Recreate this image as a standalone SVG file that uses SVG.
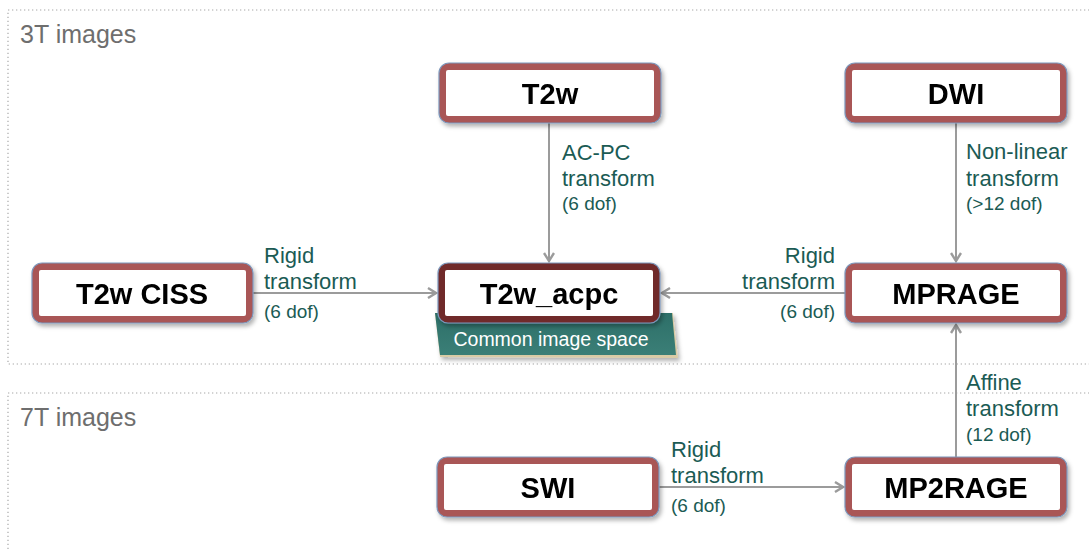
<svg xmlns="http://www.w3.org/2000/svg" width="1089" height="549" viewBox="0 0 1089 549">
<defs>
<style>
.sec{fill:none;stroke:#a8a8a8;stroke-width:1.2;stroke-dasharray:1.3 2.7}
.title{font-family:"Liberation Sans",Arial,sans-serif;font-size:25px;fill:#6e6e6e}
.outer{fill:#a95656;stroke:#7d97bb;stroke-width:1.2}
.outerD{fill:#6f2b2b;stroke:#7d97bb;stroke-width:1.2}
.inner{fill:#ffffff}
.nt{font-family:"Liberation Sans",Arial,sans-serif;font-size:29px;font-weight:bold;fill:#000;text-anchor:middle}
.lb{font-family:"Liberation Sans",Arial,sans-serif;font-size:22px;fill:#1b5b54}
.sm{font-size:19px}
.conn line{stroke:#9b9b9b;stroke-width:2;fill:none}
</style>
<marker id="arr" viewBox="0 0 12 12" refX="10" refY="6" markerWidth="12" markerHeight="12" markerUnits="userSpaceOnUse" orient="auto">
<path d="M2,1 L10,6 L2,11" fill="none" stroke="#9b9b9b" stroke-width="2.4"/>
</marker>
<filter id="sh" x="-10%" y="-20%" width="125%" height="150%">
<feDropShadow dx="2" dy="3" stdDeviation="2" flood-color="#000" flood-opacity="0.3"/>
</filter>
<linearGradient id="teal" x1="0" y1="0" x2="0" y2="1">
<stop offset="0" stop-color="#2d6f68"/>
<stop offset="1" stop-color="#3b7f77"/>
</linearGradient>
</defs>

<g id="sections">
<rect class="sec" x="8" y="10" width="1100" height="354"/>
<rect class="sec" x="8" y="393" width="1100" height="180"/>
<text class="title" x="20" y="43">3T images</text>
<text class="title" x="20" y="426">7T images</text>
</g>

<g class="conn" id="connectors">
<line x1="549" y1="123" x2="549" y2="261" marker-end="url(#arr)"/>
<line x1="956" y1="123" x2="956" y2="261" marker-end="url(#arr)"/>
<line x1="253" y1="293" x2="436" y2="293" marker-end="url(#arr)"/>
<line x1="845" y1="293" x2="662" y2="293" marker-end="url(#arr)"/>
<line x1="956" y1="457" x2="956" y2="325" marker-end="url(#arr)"/>
<line x1="659" y1="487" x2="843" y2="487" marker-end="url(#arr)"/>
</g>

<g id="labels">
<text class="lb" x="562" y="160">AC-PC</text>
<text class="lb" x="562" y="186">transform</text>
<text class="lb sm" x="562" y="210">(6 dof)</text>

<text class="lb" x="966" y="159">Non-linear</text>
<text class="lb" x="966" y="186">transform</text>
<text class="lb sm" x="966" y="210">(&gt;12 dof)</text>

<text class="lb" x="264" y="263">Rigid</text>
<text class="lb" x="264" y="289">transform</text>
<text class="lb sm" x="264" y="318">(6 dof)</text>

<text class="lb" x="835" y="263" text-anchor="end">Rigid</text>
<text class="lb" x="835" y="289" text-anchor="end">transform</text>
<text class="lb sm" x="835" y="318" text-anchor="end">(6 dof)</text>

<text class="lb" x="966" y="390">Affine</text>
<text class="lb" x="966" y="416">transform</text>
<text class="lb sm" x="966" y="441">(12 dof)</text>

<text class="lb" x="671" y="457">Rigid</text>
<text class="lb" x="671" y="483">transform</text>
<text class="lb sm" x="671" y="512">(6 dof)</text>
</g>

<g id="common-space">
<path d="M435,313 L673,313 L678,358 L440,357 Z" fill="#d9cba6" filter="url(#sh)"/>
<path d="M435,313 L672,313 L676,355 L440,355 Z" fill="url(#teal)"/>
<text x="551" y="346" text-anchor="middle" font-family="Liberation Sans, Arial, sans-serif" font-size="19.5" fill="#ffffff">Common image space</text>
</g>

<g id="node-t2w" filter="url(#sh)">
<rect class="outer" x="439" y="63" width="222" height="60" rx="10"/>
<rect class="inner" x="446" y="70" width="208" height="46" rx="2"/>
<text class="nt" x="550" y="104">T2w</text>
</g>

<g id="node-dwi" filter="url(#sh)">
<rect class="outer" x="845" y="63" width="222" height="60" rx="10"/>
<rect class="inner" x="852" y="70" width="208" height="46" rx="2"/>
<text class="nt" x="956" y="104">DWI</text>
</g>

<g id="node-t2wciss" filter="url(#sh)">
<rect class="outer" x="32" y="263" width="221" height="60" rx="10"/>
<rect class="inner" x="39" y="270" width="207" height="46" rx="2"/>
<text class="nt" x="142" y="304">T2w CISS</text>
</g>

<g id="node-t2wacpc" filter="url(#sh)">
<rect class="outerD" x="438" y="263" width="222" height="60" rx="10"/>
<rect class="inner" x="445" y="270" width="208" height="46" rx="2"/>
<text class="nt" x="549" y="304">T2w_acpc</text>
</g>

<g id="node-mprage" filter="url(#sh)">
<rect class="outer" x="845" y="263" width="222" height="60" rx="10"/>
<rect class="inner" x="852" y="270" width="208" height="46" rx="2"/>
<text class="nt" x="956" y="304">MPRAGE</text>
</g>

<g id="node-swi" filter="url(#sh)">
<rect class="outer" x="437" y="457" width="222" height="60" rx="10"/>
<rect class="inner" x="444" y="464" width="208" height="46" rx="2"/>
<text class="nt" x="548" y="498">SWI</text>
</g>

<g id="node-mp2rage" filter="url(#sh)">
<rect class="outer" x="845" y="457" width="222" height="60" rx="10"/>
<rect class="inner" x="852" y="464" width="208" height="46" rx="2"/>
<text class="nt" x="956" y="498">MP2RAGE</text>
</g>
</svg>
